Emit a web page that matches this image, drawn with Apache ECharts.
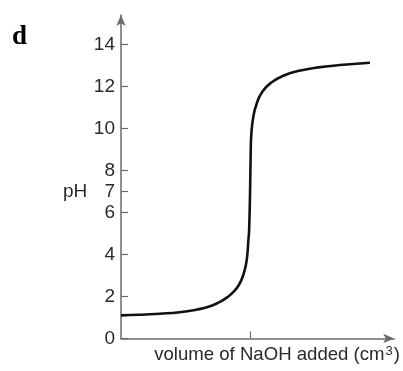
<!DOCTYPE html>
<html>
<head>
<meta charset="utf-8">
<script src="https://cdn.jsdelivr.net/npm/echarts@6/dist/echarts.min.js"></script>
<style>
html,body{margin:0;padding:0;background:#fff;}
#chart{width:403px;height:371px;}
</style>
</head>
<body>
<div id="chart"></div>
<script>
// Data (volume in arbitrary units, equivalence at 25)
const volume = [0, 3.65, 7.5, 11.35, 14.56, 17.1, 19.04, 20.63, 21.92, 22.88, 23.65, 24.17, 24.48, 24.67, 24.81, 25.0, 25.13, 25.25, 25.63, 26.29, 27.37, 28.98, 31.54, 34.75, 38.6, 43.08, 48.21];
const pH     = [1.1, 1.13, 1.18, 1.25, 1.37, 1.52, 1.73, 1.97, 2.25, 2.57, 3.0, 3.48, 4.03, 4.67, 5.14, 7.0, 8.97, 9.75, 10.56, 11.19, 11.75, 12.16, 12.52, 12.76, 12.92, 13.03, 13.13];
const yTicks = [0, 2, 4, 6, 7, 8, 10, 12, 14];
const xTicks = [25];
const xName = 'volume of NaOH added (cm';
const xNameSup = '3';
const xNameEnd = ')';
const yName = 'pH';
const panelLabel = 'd';

const chart = echarts.init(document.getElementById('chart'));
const axisColor = '#6a6a6a';
const textColor = '#2a2a2a';
const font = 'Liberation Sans';
chart.setOption({
  animation: false,
  backgroundColor: '#fff',
  grid: {left: 121, right: 7, top: 15, bottom: 32.5, containLabel: false},
  xAxis: {
    type: 'value', min: 0, max: 52.9,
    name: '{n|' + xName + '}{s|' + xNameSup + '}{n|' + xNameEnd + '}',
    nameLocation: 'middle', nameGap: 6,
    nameTextStyle: {
      padding: [0, 0, 0, 39],
      verticalAlign: 'top',
      rich: {
        n: {fontFamily: font, fontSize: 18.6, color: textColor, lineHeight: 20, verticalAlign: 'bottom'},
        s: {fontFamily: font, fontSize: 13, color: textColor, lineHeight: 13, verticalAlign: 'top', padding: [0, 1, 0, 1]}
      }
    },
    axisLine: {show: true, symbol: ['none', 'arrow'], symbolSize: [7, 11], lineStyle: {color: axisColor, width: 1.5}},
    axisTick: {show: true, inside: true, length: 7, customValues: xTicks, lineStyle: {color: axisColor, width: 1.2}},
    axisLabel: {show: false},
    splitLine: {show: false}
  },
  yAxis: {
    type: 'value', min: 0, max: 15.4,
    axisLine: {show: true, symbol: ['none', 'arrow'], symbolSize: [7, 11], lineStyle: {color: axisColor, width: 1.5}},
    axisTick: {show: true, inside: true, length: 7, customValues: yTicks, lineStyle: {color: axisColor, width: 1.2}},
    axisLabel: {show: true, customValues: yTicks, margin: 6, color: textColor, fontFamily: font, fontSize: 19},
    splitLine: {show: false}
  },
  graphic: [
    {type: 'text', left: 12, top: 24, style: {text: panelLabel, font: 'bold 27px "Liberation Serif"', fill: '#000'}},
    {type: 'text', left: 63, top: 182, style: {text: yName, font: '19px "Liberation Sans"', fill: textColor}}
  ],
  series: [{
    type: 'line',
    data: volume.map((v, i) => [v, pH[i]]),
    showSymbol: false,
    smooth: 0.5,
    lineStyle: {color: '#111', width: 2.6},
    silent: true
  }]
});
</script>
</body>
</html>
